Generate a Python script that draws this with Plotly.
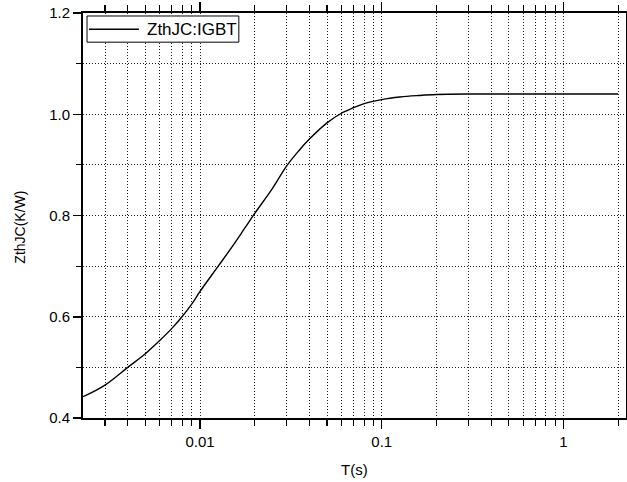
import math
import plotly.graph_objects as go

# Data
t_s = [0.00227, 0.003, 0.004, 0.005, 0.006, 0.007, 0.008, 0.009, 0.01, 0.0126,
       0.015, 0.0177, 0.02, 0.025, 0.03, 0.035, 0.04, 0.05, 0.06, 0.07, 0.08,
       0.1, 0.126, 0.16, 0.2, 0.3, 0.5, 1.0, 2.0]
zth = [0.442, 0.465, 0.500, 0.527, 0.553, 0.577, 0.601, 0.625, 0.650, 0.700,
       0.738, 0.776, 0.804, 0.853, 0.898, 0.928, 0.951, 0.983, 1.002, 1.013, 1.021,
       1.029, 1.034, 1.037, 1.039, 1.040, 1.040, 1.040, 1.040]
x_tickvals = [0.01, 0.1, 1]
x_ticktext = ["0.01", "0.1", "1"]
series_name = "ZthJC:IGBT"

FONT = "Arial, Liberation Sans, sans-serif"
GRID = "#222222"
GRIDDASH = "1px,2px"

W, H = 627, 482

fig = go.Figure()
fig.add_trace(go.Scatter(
    x=t_s, y=zth, mode="lines", name=series_name, showlegend=False,
    line=dict(color="black", width=1.4, shape="spline", smoothing=1.0),
))

fig.update_layout(
    width=W, height=H,
    margin=dict(l=83, r=1, t=13, b=64, autoexpand=False),
    paper_bgcolor="white", plot_bgcolor="white",
    font=dict(family=FONT, color="black", size=15),
    showlegend=False,
    shapes=[
        # legend box
        dict(type="rect", xref="paper", yref="paper",
             x0=0.0074, x1=0.287, y0=0.928, y1=0.9926,
             line=dict(color="black", width=1), fillcolor="white", layer="above"),
        dict(type="line", xref="paper", yref="paper",
             x0=0.011, x1=0.103, y0=0.960, y1=0.960,
             line=dict(color="black", width=1.4), layer="above"),
    ],
    annotations=[
        dict(text=series_name, xref="paper", yref="paper", x=0.114, y=0.960,
             xanchor="left", yanchor="middle", showarrow=False,
             font=dict(size=17, family=FONT)),
        dict(text="T(s)", xref="paper", yref="paper", x=0.5, y=0,
             yshift=-51, xanchor="center", yanchor="middle",
             showarrow=False, font=dict(size=15, family=FONT)),
        dict(text="ZthJC(K/W)", xref="paper", yref="paper", x=0, y=0.47,
             xshift=-63, xanchor="center", yanchor="middle", textangle=-90,
             showarrow=False, font=dict(size=14, family=FONT)),
    ],
)

fig.update_xaxes(
    type="log", automargin=False, ticklabeloverflow="allow",
    range=[math.log10(0.00227), math.log10(2.21)],
    tickvals=x_tickvals, ticktext=x_ticktext,
    ticks="outside", ticklen=9, tickwidth=1.5, tickcolor="black",
    showline=True, linewidth=2, linecolor="black", mirror="ticks",
    showgrid=True, gridcolor=GRID, griddash=GRIDDASH, gridwidth=1,
    zeroline=False,
    tickfont=dict(size=15, family=FONT),
    minor=dict(dtick="D1", ticks="outside", ticklen=6, tickwidth=1.2,
               tickcolor="black", showgrid=True, gridcolor=GRID,
               griddash=GRIDDASH, gridwidth=1),
)
fig.update_yaxes(
    automargin=False, ticklabeloverflow="allow",
    range=[0.4, 1.2], tick0=0.4, dtick=0.2, tickformat=".1f",
    ticks="outside", ticklen=8, tickwidth=1.5, tickcolor="black",
    showline=True, linewidth=2, linecolor="black", mirror="ticks",
    showgrid=True, gridcolor=GRID, griddash=GRIDDASH, gridwidth=1,
    zeroline=False,
    tickfont=dict(size=15, family=FONT),
    minor=dict(dtick=0.1, ticks="outside", ticklen=5, tickwidth=1.2,
               tickcolor="black", showgrid=True, gridcolor=GRID,
               griddash=GRIDDASH, gridwidth=1),
)

# remove the page's default body margin so the figure fills the window
fig.write_html(
    "out.html",
    config={"displayModeBar": False, "staticPlot": True},
    post_script="document.body.style.margin='0';document.body.style.overflow='hidden';",
)
